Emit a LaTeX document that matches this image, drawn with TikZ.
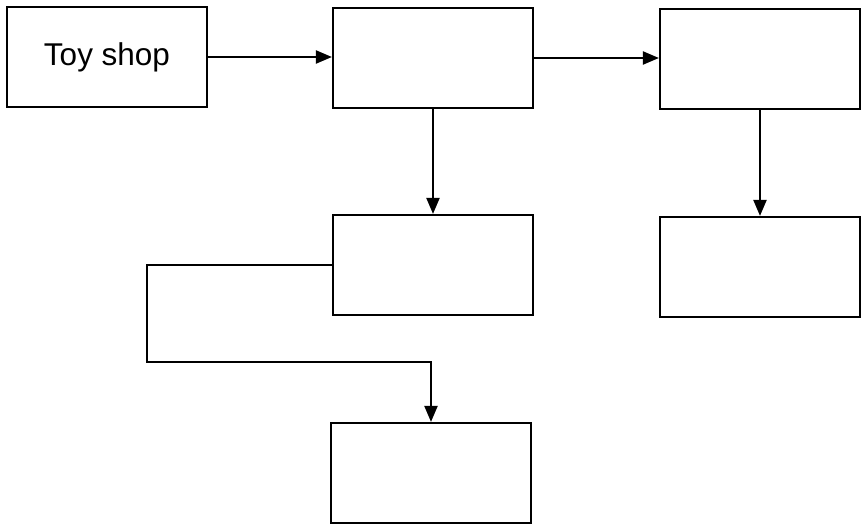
\documentclass[tikz,border=0pt]{standalone}
\usepackage{fontspec}
\setmainfont{Liberation Sans}
\usetikzlibrary{arrows.meta}

\tikzset{
  blank/.style={draw=black,line width=2.2pt,minimum width=200pt,minimum height=100pt,inner sep=0pt},
  arr/.style={line width=2.2pt,-{Triangle[length=16pt,width=13pt]}}
}

\begin{document}
\begin{tikzpicture}[x=1pt,y=-1pt]
  \useasboundingbox (0,0) rectangle (862,528);
  % boxes
  \node[blank,font=\fontsize{31.5}{36}\selectfont] (shop) at (107,57) {Toy shop};
  \node[blank] (b2) at (433,58) {};
  \node[blank] (b3) at (760,59) {};
  \node[blank] (b4) at (433,265) {};
  \node[blank] (b5) at (760,267) {};
  \node[blank] (b6) at (431,473) {};
  \coordinate (turn) at (147,362);
  % connectors
  \draw[arr] (shop.east) -- (shop.east -| b2.west);
  \draw[arr] (b2.east) -- (b2.east -| b3.west);
  \draw[arr] (b2.south) -- (b4.north);
  \draw[arr] (b3.south) -- (b5.north);
  \draw[arr] (b4.west) -| (turn) -| (b6.north);
\end{tikzpicture}
\end{document}
